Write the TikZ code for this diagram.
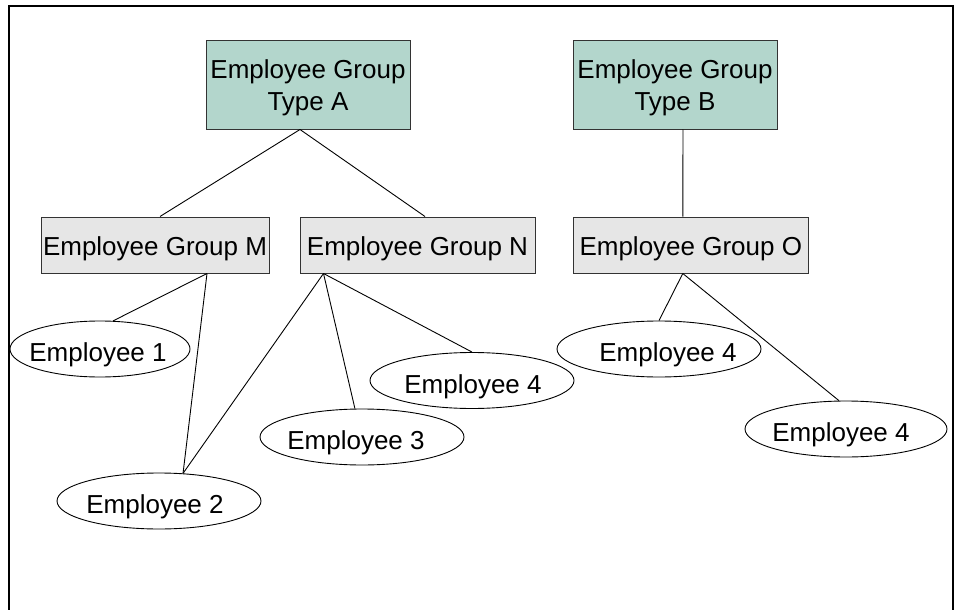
\documentclass[tikz,border=0pt]{standalone}
\usepackage{fontspec}
\setmainfont{Liberation Sans}
\usetikzlibrary{shapes.geometric}
\definecolor{grpgreen}{RGB}{179,214,204}
\definecolor{grpgray}{RGB}{230,230,230}
% #1: twice the horizontal offset, #2: vertical raise of baseline, #3: text
\newcommand\zplace[3]{\makebox[0pt]{\kern#1\smash{\raisebox{#2}{#3}}}}
\newcommand\ztwo[2]{\begin{tabular}[b]{@{}c@{}}#1\\#2\end{tabular}}
\begin{document}
\begin{tikzpicture}[x=1pt,y=-1pt,
  every node/.style={font=\fontsize{26}{32}\selectfont},
  typebox/.style={draw=black!80, fill=grpgreen, minimum width=204pt, minimum height=88pt, inner sep=0pt, line width=1pt},
  groupbox/.style={draw=black!80, fill=grpgray, minimum height=56pt, inner sep=0pt, line width=1pt},
  emp/.style={draw, ellipse, minimum height=56pt, inner sep=0pt, line width=0.9pt},
  link/.style={line width=0.9pt},
  frame/.style={line width=1.5pt}]
\useasboundingbox (0,0) rectangle (956,610);
\coordinate (fbl) at (9,610);
\coordinate (ftl) at (9,6);
\coordinate (ftr) at (953,6);
\coordinate (fbr) at (953,610);
\draw[frame] (fbl) -- (ftl) -- (ftr) -- (fbr);

\node[typebox] (A) at (308,85) {\zplace{0pt}{-25.7pt}{\ztwo{Employee Group}{Type A}}};
\node[typebox] (B) at (675,85) {\zplace{0pt}{-25.7pt}{\ztwo{Employee Group}{Type B}}};
\node[groupbox, minimum width=228pt] (M) at (155,245) {\zplace{0pt}{-10pt}{Employee Group M}};
\node[groupbox, minimum width=235pt] (N) at (417.5,245) {\zplace{0pt}{-10pt}{Employee Group N}};
\node[groupbox, minimum width=235pt] (O) at (690.8,245) {\zplace{0pt}{-10pt}{Employee Group O}};

\node[emp, minimum width=180pt] (E1) at (100,349) {\zplace{-4pt}{-12.5pt}{Employee 1}};
\node[emp, minimum width=204pt] (E2) at (159,501) {\zplace{-8pt}{-12.5pt}{Employee 2}};
\node[emp, minimum width=204pt] (E3) at (362,437) {\zplace{-12pt}{-12.5pt}{Employee 3}};
\node[emp, minimum width=204pt] (E4) at (472,380.5) {\zplace{2pt}{-12.5pt}{Employee 4}};
\node[emp, minimum width=204pt] (E5) at (659,349) {\zplace{18pt}{-12.5pt}{Employee 4}};
\node[emp, minimum width=202pt] (E6) at (846,429) {\zplace{-10pt}{-12.5pt}{Employee 4}};

\draw[link] ([xshift=-8pt]A.south) -- ([xshift=5pt]M.north);
\draw[link] ([xshift=-8pt]A.south) -- ([xshift=7.5pt]N.north);
\draw[link] ([xshift=8pt]B.south) -- ([xshift=-8pt]O.north);
\draw[link] ([xshift=52pt]M.south) -- (E1.65);
\draw[link] ([xshift=52pt]M.south) -- (E2.49);
\draw[link] ([xshift=-94pt]N.south) -- (E2.49);
\draw[link] ([xshift=-94pt]N.south) -- (E3.104);
\draw[link] ([xshift=-94pt]N.south) -- (E4.north);
\draw[link] ([xshift=-8pt]O.south) -- (E5.north);
\draw[link] ([xshift=-8pt]O.south) -- (E6.104);
\end{tikzpicture}
\end{document}
